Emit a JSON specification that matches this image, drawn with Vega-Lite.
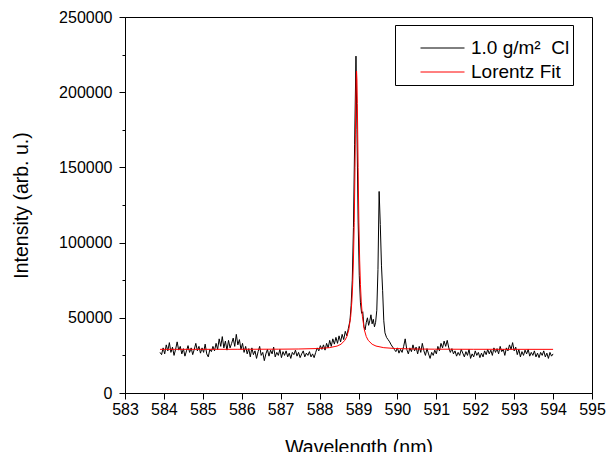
{
  "$schema": "https://vega.github.io/schema/vega-lite/v6.json",
  "width": 467,
  "height": 376,
  "autosize": {"type": "none"},
  "padding": {"left": 125, "top": 17, "right": 14, "bottom": 59},
  "background": "white",
  "config": {
    "view": {"stroke": "black", "strokeWidth": 1},
    "font": "Liberation Sans"
  },
  "datasets": {
    "meas": [
      {"x": 583.90, "y": 27000}, {"x": 583.94, "y": 25500}, {"x": 583.98, "y": 30000}, {"x": 584.02, "y": 26000},
      {"x": 584.06, "y": 32000}, {"x": 584.10, "y": 28000}, {"x": 584.14, "y": 33500}, {"x": 584.18, "y": 27000},
      {"x": 584.22, "y": 30500}, {"x": 584.26, "y": 25000}, {"x": 584.30, "y": 29000}, {"x": 584.34, "y": 34000},
      {"x": 584.38, "y": 28500}, {"x": 584.42, "y": 31000}, {"x": 584.46, "y": 26000}, {"x": 584.50, "y": 29500},
      {"x": 584.54, "y": 24500}, {"x": 584.58, "y": 28000}, {"x": 584.62, "y": 31500}, {"x": 584.66, "y": 27000},
      {"x": 584.70, "y": 30000}, {"x": 584.74, "y": 25500}, {"x": 584.78, "y": 29000}, {"x": 584.82, "y": 33000},
      {"x": 584.86, "y": 28000}, {"x": 584.90, "y": 31000}, {"x": 584.94, "y": 26500}, {"x": 584.98, "y": 30000},
      {"x": 585.02, "y": 27000}, {"x": 585.06, "y": 32500}, {"x": 585.10, "y": 26000}, {"x": 585.14, "y": 24000},
      {"x": 585.18, "y": 29000}, {"x": 585.22, "y": 27500}, {"x": 585.26, "y": 31000}, {"x": 585.30, "y": 28000},
      {"x": 585.34, "y": 33000}, {"x": 585.38, "y": 29000}, {"x": 585.42, "y": 36000}, {"x": 585.46, "y": 31000},
      {"x": 585.50, "y": 37500}, {"x": 585.54, "y": 30000}, {"x": 585.58, "y": 34500}, {"x": 585.62, "y": 28500},
      {"x": 585.66, "y": 35000}, {"x": 585.70, "y": 30000}, {"x": 585.74, "y": 33000}, {"x": 585.78, "y": 36500},
      {"x": 585.82, "y": 31000}, {"x": 585.86, "y": 39000}, {"x": 585.90, "y": 32000}, {"x": 585.94, "y": 35500},
      {"x": 585.98, "y": 29000}, {"x": 586.02, "y": 33000}, {"x": 586.06, "y": 27000}, {"x": 586.10, "y": 31000},
      {"x": 586.14, "y": 26000}, {"x": 586.18, "y": 29500}, {"x": 586.22, "y": 24000}, {"x": 586.26, "y": 30000},
      {"x": 586.30, "y": 25500}, {"x": 586.34, "y": 28000}, {"x": 586.38, "y": 23000}, {"x": 586.42, "y": 27500},
      {"x": 586.46, "y": 31000}, {"x": 586.50, "y": 25000}, {"x": 586.54, "y": 27000}, {"x": 586.58, "y": 21500},
      {"x": 586.62, "y": 26000}, {"x": 586.66, "y": 29000}, {"x": 586.70, "y": 24500}, {"x": 586.74, "y": 28500},
      {"x": 586.78, "y": 26000}, {"x": 586.82, "y": 30500}, {"x": 586.86, "y": 24000}, {"x": 586.90, "y": 27000},
      {"x": 586.94, "y": 25000}, {"x": 586.98, "y": 29000}, {"x": 587.02, "y": 23500}, {"x": 587.06, "y": 27500},
      {"x": 587.10, "y": 25000}, {"x": 587.14, "y": 28000}, {"x": 587.18, "y": 24000}, {"x": 587.22, "y": 26500},
      {"x": 587.26, "y": 23000}, {"x": 587.30, "y": 27000}, {"x": 587.34, "y": 25500}, {"x": 587.38, "y": 28500},
      {"x": 587.42, "y": 24500}, {"x": 587.46, "y": 27000}, {"x": 587.50, "y": 23500}, {"x": 587.54, "y": 26000},
      {"x": 587.58, "y": 28000}, {"x": 587.62, "y": 24000}, {"x": 587.66, "y": 26500}, {"x": 587.70, "y": 25000},
      {"x": 587.74, "y": 27500}, {"x": 587.78, "y": 24000}, {"x": 587.82, "y": 26000}, {"x": 587.86, "y": 23500},
      {"x": 587.90, "y": 27000}, {"x": 587.94, "y": 30000}, {"x": 587.98, "y": 28000}, {"x": 588.02, "y": 31500},
      {"x": 588.06, "y": 29000}, {"x": 588.10, "y": 32000}, {"x": 588.14, "y": 28500}, {"x": 588.18, "y": 33000},
      {"x": 588.22, "y": 30000}, {"x": 588.26, "y": 35000}, {"x": 588.30, "y": 31000}, {"x": 588.34, "y": 36000},
      {"x": 588.38, "y": 32500}, {"x": 588.42, "y": 37000}, {"x": 588.46, "y": 33000}, {"x": 588.50, "y": 38000},
      {"x": 588.54, "y": 34000}, {"x": 588.58, "y": 39000}, {"x": 588.62, "y": 35500}, {"x": 588.66, "y": 41000},
      {"x": 588.70, "y": 38000}, {"x": 588.74, "y": 43000}, {"x": 588.78, "y": 48000}, {"x": 588.81, "y": 58000},
      {"x": 588.84, "y": 75000}, {"x": 588.87, "y": 110000}, {"x": 588.90, "y": 165000}, {"x": 588.935, "y": 224000},
      {"x": 588.96, "y": 175000}, {"x": 588.99, "y": 115000}, {"x": 589.02, "y": 78000}, {"x": 589.05, "y": 60000},
      {"x": 589.08, "y": 53000}, {"x": 589.11, "y": 54000}, {"x": 589.14, "y": 44000}, {"x": 589.17, "y": 42000},
      {"x": 589.20, "y": 47000}, {"x": 589.23, "y": 50000}, {"x": 589.26, "y": 45000}, {"x": 589.29, "y": 48000},
      {"x": 589.32, "y": 52000}, {"x": 589.35, "y": 46000}, {"x": 589.38, "y": 49000}, {"x": 589.41, "y": 44000},
      {"x": 589.44, "y": 47000}, {"x": 589.47, "y": 55000}, {"x": 589.50, "y": 82000}, {"x": 589.53, "y": 134000},
      {"x": 589.56, "y": 112000}, {"x": 589.59, "y": 85000}, {"x": 589.62, "y": 68000}, {"x": 589.65, "y": 48000},
      {"x": 589.68, "y": 40000}, {"x": 589.72, "y": 37000}, {"x": 589.76, "y": 35500}, {"x": 589.80, "y": 34000},
      {"x": 589.84, "y": 32000}, {"x": 589.88, "y": 30500}, {"x": 589.92, "y": 29000}, {"x": 589.96, "y": 27500},
      {"x": 590.00, "y": 30000}, {"x": 590.04, "y": 26500}, {"x": 590.08, "y": 29000}, {"x": 590.12, "y": 27000},
      {"x": 590.16, "y": 31000}, {"x": 590.20, "y": 36000}, {"x": 590.24, "y": 29000}, {"x": 590.28, "y": 26000},
      {"x": 590.32, "y": 30000}, {"x": 590.36, "y": 27500}, {"x": 590.40, "y": 32000}, {"x": 590.44, "y": 28000},
      {"x": 590.48, "y": 30500}, {"x": 590.52, "y": 26000}, {"x": 590.56, "y": 31000}, {"x": 590.60, "y": 27000},
      {"x": 590.64, "y": 33000}, {"x": 590.68, "y": 28000}, {"x": 590.72, "y": 25000}, {"x": 590.76, "y": 29500},
      {"x": 590.80, "y": 26000}, {"x": 590.84, "y": 23000}, {"x": 590.88, "y": 27000}, {"x": 590.92, "y": 25000},
      {"x": 590.96, "y": 28500}, {"x": 591.00, "y": 26000}, {"x": 591.04, "y": 31000}, {"x": 591.08, "y": 28000},
      {"x": 591.12, "y": 33000}, {"x": 591.16, "y": 30000}, {"x": 591.20, "y": 34500}, {"x": 591.24, "y": 31000},
      {"x": 591.28, "y": 35000}, {"x": 591.32, "y": 30000}, {"x": 591.36, "y": 27000}, {"x": 591.40, "y": 29500},
      {"x": 591.44, "y": 26000}, {"x": 591.48, "y": 28000}, {"x": 591.52, "y": 24500}, {"x": 591.56, "y": 27000},
      {"x": 591.60, "y": 25000}, {"x": 591.64, "y": 29000}, {"x": 591.68, "y": 26500}, {"x": 591.72, "y": 24000},
      {"x": 591.76, "y": 27500}, {"x": 591.80, "y": 25000}, {"x": 591.84, "y": 29000}, {"x": 591.88, "y": 23000},
      {"x": 591.92, "y": 26000}, {"x": 591.96, "y": 24000}, {"x": 592.00, "y": 28000}, {"x": 592.04, "y": 25000},
      {"x": 592.08, "y": 27000}, {"x": 592.12, "y": 23500}, {"x": 592.16, "y": 26500}, {"x": 592.20, "y": 24000},
      {"x": 592.24, "y": 28000}, {"x": 592.28, "y": 25500}, {"x": 592.32, "y": 29000}, {"x": 592.36, "y": 26000},
      {"x": 592.40, "y": 28500}, {"x": 592.44, "y": 25000}, {"x": 592.48, "y": 30000}, {"x": 592.52, "y": 27000},
      {"x": 592.56, "y": 29500}, {"x": 592.60, "y": 26000}, {"x": 592.64, "y": 31000}, {"x": 592.68, "y": 27500},
      {"x": 592.72, "y": 29000}, {"x": 592.76, "y": 25000}, {"x": 592.80, "y": 30000}, {"x": 592.84, "y": 28000},
      {"x": 592.88, "y": 32000}, {"x": 592.92, "y": 29000}, {"x": 592.96, "y": 33500}, {"x": 593.00, "y": 28000},
      {"x": 593.04, "y": 30500}, {"x": 593.08, "y": 25500}, {"x": 593.12, "y": 29000}, {"x": 593.16, "y": 24000},
      {"x": 593.20, "y": 27500}, {"x": 593.24, "y": 25000}, {"x": 593.28, "y": 28500}, {"x": 593.32, "y": 26000},
      {"x": 593.36, "y": 29000}, {"x": 593.40, "y": 24500}, {"x": 593.44, "y": 27000}, {"x": 593.48, "y": 25000},
      {"x": 593.52, "y": 28000}, {"x": 593.56, "y": 24000}, {"x": 593.60, "y": 26500}, {"x": 593.64, "y": 23500},
      {"x": 593.68, "y": 27000}, {"x": 593.72, "y": 25000}, {"x": 593.76, "y": 28000}, {"x": 593.80, "y": 24000},
      {"x": 593.84, "y": 26500}, {"x": 593.88, "y": 23000}, {"x": 593.92, "y": 27000}, {"x": 593.96, "y": 24500},
      {"x": 594.00, "y": 26000}
    ],
    "fit": [
      {"x": 583.90, "y": 29022}, {"x": 585.90, "y": 29060}, {"x": 586.95, "y": 29140}, {"x": 587.45, "y": 29250},
      {"x": 587.95, "y": 29560}, {"x": 588.25, "y": 30130}, {"x": 588.45, "y": 31210}, {"x": 588.55, "y": 32430},
      {"x": 588.65, "y": 35000}, {"x": 588.70, "y": 37500}, {"x": 588.75, "y": 42000}, {"x": 588.80, "y": 50900},
      {"x": 588.83, "y": 61100}, {"x": 588.85, "y": 72000}, {"x": 588.87, "y": 88400}, {"x": 588.89, "y": 113500},
      {"x": 588.90, "y": 130300}, {"x": 588.91, "y": 150000}, {"x": 588.92, "y": 171600}, {"x": 588.93, "y": 192400},
      {"x": 588.94, "y": 208100}, {"x": 588.95, "y": 214000}, {"x": 588.96, "y": 208100}, {"x": 588.97, "y": 192400},
      {"x": 588.98, "y": 171600}, {"x": 588.99, "y": 150000}, {"x": 589.00, "y": 130300}, {"x": 589.01, "y": 113500},
      {"x": 589.03, "y": 88400}, {"x": 589.05, "y": 72000}, {"x": 589.07, "y": 61100}, {"x": 589.10, "y": 50900},
      {"x": 589.15, "y": 42000}, {"x": 589.20, "y": 37500}, {"x": 589.25, "y": 35000}, {"x": 589.35, "y": 32430},
      {"x": 589.45, "y": 31210}, {"x": 589.65, "y": 30130}, {"x": 589.95, "y": 29560}, {"x": 590.45, "y": 29250},
      {"x": 590.95, "y": 29140}, {"x": 591.95, "y": 29060}, {"x": 594.00, "y": 29022}
    ]
  },
  "encoding": {
    "x": {
      "field": "x",
      "type": "quantitative",
      "scale": {"domain": [583, 595], "nice": false, "zero": false},
      "axis": {
        "title": "Wavelength (nm)",
        "values": [583, 583.5, 584, 584.5, 585, 585.5, 586, 586.5, 587, 587.5, 588, 588.5, 589, 589.5, 590, 590.5, 591, 591.5, 592, 592.5, 593, 593.5, 594, 594.5, 595],
        "format": "d",
        "labelExpr": "datum.value % 1 === 0 ? datum.label : ''",
        "grid": false,
        "domainColor": "black",
        "domainWidth": 1,
        "tickColor": "black",
        "tickWidth": 1,
        "tickSize": {"condition": {"test": "datum.value % 1 === 0", "value": 6}, "value": 3},
        "labelFont": "Liberation Sans",
        "labelFontSize": 16,
        "labelColor": "black",
        "labelPadding": 2,
        "labelFlush": false,
        "labelOverlap": false,
        "titleFont": "Liberation Sans",
        "titleFontSize": 19.5,
        "titleFontWeight": "normal",
        "titleColor": "black",
        "titlePadding": 21
      }
    },
    "y": {
      "field": "y",
      "type": "quantitative",
      "scale": {"domain": [0, 250000], "nice": false},
      "axis": {
        "title": "Intensity (arb. u.)",
        "values": [0, 25000, 50000, 75000, 100000, 125000, 150000, 175000, 200000, 225000, 250000],
        "format": "d",
        "labelExpr": "datum.value % 50000 === 0 ? datum.label : ''",
        "grid": false,
        "domainColor": "black",
        "domainWidth": 1,
        "tickColor": "black",
        "tickWidth": 1,
        "tickSize": {"condition": {"test": "datum.value % 50000 === 0", "value": 6}, "value": 3},
        "labelFont": "Liberation Sans",
        "labelFontSize": 16,
        "labelColor": "black",
        "labelPadding": 7,
        "labelOverlap": false,
        "labelFlush": false,
        "titleFont": "Liberation Sans",
        "titleFontSize": 19.5,
        "titleFontWeight": "normal",
        "titleColor": "black",
        "titlePadding": 27
      }
    }
  },
  "layer": [
    {
      "data": {"name": "meas"},
      "mark": {"type": "line", "strokeWidth": 1, "clip": true},
      "encoding": {
        "color": {
          "datum": "1.0 g/m\u00b2\u00a0 Cl",
          "type": "nominal",
          "scale": {"domain": ["1.0 g/m\u00b2\u00a0 Cl", "Lorentz Fit"], "range": ["black", "red"]},
          "legend": {
            "orient": "none",
            "legendX": 270,
            "legendY": 8,
            "title": "\u00a0",
            "titleFontSize": 10,
            "titlePadding": 0.5,
            "padding": 3,
            "strokeColor": "black",
            "fillColor": "white",
            "symbolType": "M-4,0H4",
            "symbolSize": 121,
            "symbolStrokeWidth": 1,
            "symbolOffset": 35,
            "labelOffset": 19,
            "labelFont": "Liberation Sans",
            "labelFontSize": 19,
            "labelColor": "black",
            "labelExpr": "datum.label + '\u2002\u2002'",
            "labelLimit": 400,
            "rowPadding": 4
          }
        }
      }
    },
    {
      "data": {"name": "fit"},
      "mark": {"type": "line", "strokeWidth": 1, "clip": true},
      "encoding": {
        "color": {"datum": "Lorentz Fit", "type": "nominal"}
      }
    }
  ]
}
